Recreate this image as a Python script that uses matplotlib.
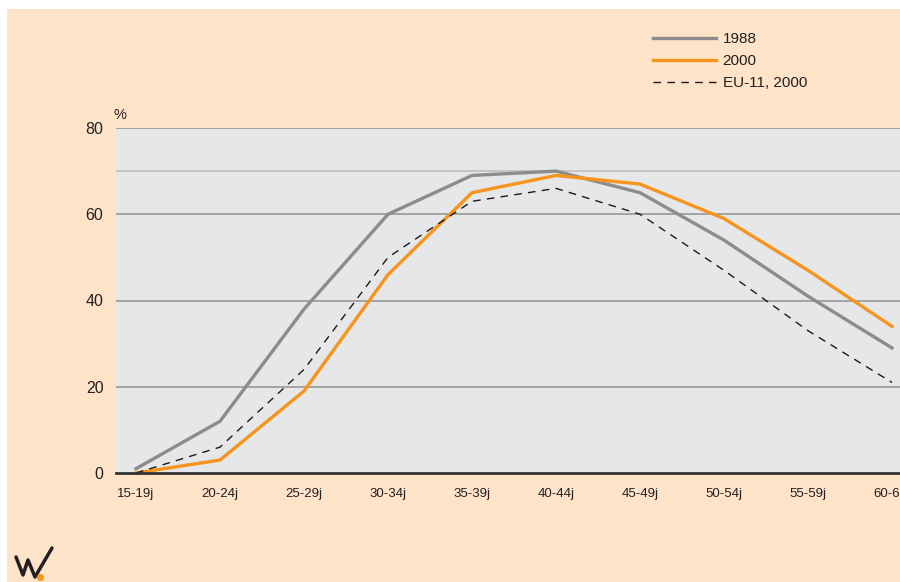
import matplotlib
matplotlib.use('Agg')
import matplotlib.pyplot as plt
from matplotlib.patches import Rectangle
from matplotlib.lines import Line2D

# age groups and participation rates (%)
groups = ['15-19j', '20-24j', '25-29j', '30-34j', '35-39j',
          '40-44j', '45-49j', '50-54j', '55-59j', '60-64j']
y1988 = [1, 12, 38, 60, 69, 70, 65, 54, 41, 29]
y2000 = [0, 3, 19, 46, 65, 69, 67, 59, 47, 34]
eu11_2000 = [0, 6, 24, 50, 63, 66, 60, 47, 33, 21]
yticks = [0, 20, 40, 60, 80]
grid_levels = [20, 40, 60, 70, 80]

plt.rcParams['font.family'] = ['Liberation Sans', 'DejaVu Sans']

peach = '#FDE3C8'
fig = plt.figure(figsize=(9, 5.82), dpi=100, facecolor='white')
fig.patches.append(Rectangle((7 / 900, 0), 1, 1 - 9 / 582, transform=fig.transFigure,
                             facecolor=peach, edgecolor='none', zorder=-10))

ax = fig.add_axes([116 / 900, 1 - 473 / 582, 1 - 116 / 900, (473 - 128) / 582])
ax.set_facecolor('#E6E7E8')

x = list(range(len(groups)))
for g in grid_levels:
    ax.axhline(g, color='#C4C4C4' if g == 70 else '#A3A3A3', lw=1.4, zorder=1)
ax.axhline(0, color='#333333', lw=2, zorder=5, clip_on=False)

ax.plot(x, y1988, color='#8C8C8C', lw=2.4, label='1988', zorder=3, clip_on=False)
ax.plot(x, y2000, color='#F7941D', lw=2.4, label='2000', zorder=4, clip_on=False)
ax.plot(x, eu11_2000, color='#1A1A1A', lw=1.0, dashes=(5.5, 4.5), label='EU-11, 2000',
        zorder=4, clip_on=False)

ax.set_xlim(-20 / 84, (900 - 136) / 84)
ax.set_ylim(0, 80)
ax.set_xticks(x)
ax.set_xticklabels(groups, fontsize=9.5, color='#231F20')
ax.set_yticks(yticks)
ax.set_yticklabels([str(v) for v in yticks], fontsize=11.5, color='#231F20')
ax.tick_params(axis='both', length=0)
ax.tick_params(axis='y', pad=9)
ax.tick_params(axis='x', pad=11)
for s in ax.spines.values():
    s.set_visible(False)

fig.text(113 / 900, 1 - 115 / 582, '%', fontsize=10.5, color='#231F20', va='center', ha='left')

leg = fig.legend(loc='upper left', bbox_to_anchor=(653 / 900, 1 - 32 / 582),
                 frameon=False, fontsize=11, handlelength=4.1, handletextpad=0.45,
                 labelspacing=0.52, borderpad=0, borderaxespad=0)
for t in leg.get_texts():
    t.set_color('#231F20')

# logo, bottom left
fig.add_artist(Line2D([16 / 900, 23 / 900, 28 / 900, 35 / 900, 52 / 900],
                      [1 - 557 / 582, 1 - 575 / 582, 1 - 560 / 582, 1 - 577 / 582, 1 - 548 / 582],
                      transform=fig.transFigure, color='#231F20', lw=2.5,
                      solid_joinstyle='round', solid_capstyle='round'))
fig.add_artist(Line2D([40 / 900], [1 - 577 / 582], transform=fig.transFigure,
                      marker='o', ms=4, color='#F7941D', lw=0))

fig.savefig('out.png', dpi=100, facecolor=fig.get_facecolor())
